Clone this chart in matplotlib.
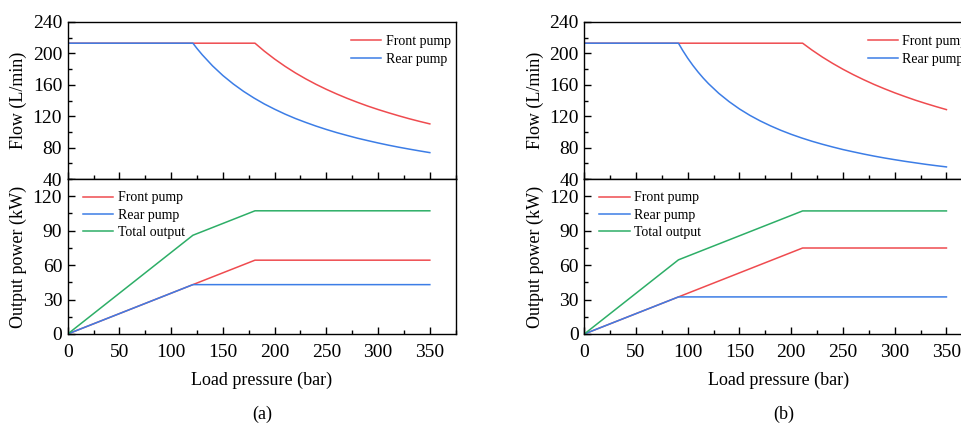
import matplotlib
matplotlib.use("Agg")
import matplotlib.pyplot as plt
from matplotlib.ticker import MultipleLocator

plt.rcParams['font.family'] = ['Liberation Serif', 'DejaVu Serif']

RED = '#EF4B4F'
BLUE = '#3C7DE6'
GREEN = '#2DAE67'

# ---- Panel (a) data ----
a_front_flow_p = [0, 181, 190, 200, 210, 220, 230, 240, 250, 260, 270, 280, 290, 300, 310, 320, 330, 340, 350]
a_front_flow_q = [213, 213, 202.9, 192.8, 183.6, 175.2, 167.6, 160.6, 154.2, 148.3, 142.8, 137.7, 132.9, 128.5, 124.4, 120.5, 116.8, 113.4, 110.2]
a_rear_flow_p = [0, 121, 125, 130, 140, 150, 160, 170, 180, 190, 200, 210, 220, 230, 240, 250, 260, 270, 280, 290, 300, 310, 320, 330, 340, 350]
a_rear_flow_q = [213, 213, 206.2, 198.3, 184.1, 171.8, 161.1, 151.6, 143.2, 135.6, 128.9, 122.7, 117.1, 112.1, 107.4, 103.1, 99.1, 95.5, 92.0, 88.9, 85.9, 83.1, 80.5, 78.1, 75.8, 73.6]
a_front_pow_p = [0, 121, 181, 350]
a_front_pow_w = [0, 43.0, 64.3, 64.3]
a_rear_pow_p = [0, 121, 350]
a_rear_pow_w = [0, 43.0, 43.0]
a_total_pow_p = [0, 121, 181, 350]
a_total_pow_w = [0, 86.0, 107.3, 107.3]

# ---- Panel (b) data ----
b_front_flow_p = [0, 211, 220, 230, 240, 250, 260, 270, 280, 290, 300, 310, 320, 330, 340, 350]
b_front_flow_q = [213, 213, 204.3, 195.4, 187.3, 179.8, 172.9, 166.5, 160.5, 155.0, 149.8, 145.0, 140.4, 136.2, 132.2, 128.4]
b_rear_flow_p = [0, 91, 95, 100, 105, 110, 115, 120, 130, 140, 150, 160, 170, 180, 190, 200, 210, 220, 230, 240, 250, 260, 270, 280, 290, 300, 310, 320, 330, 340, 350]
b_rear_flow_q = [213, 213, 204.0, 193.8, 184.6, 176.2, 168.5, 161.5, 149.1, 138.5, 129.2, 121.1, 114.0, 107.7, 102.0, 96.9, 92.3, 88.1, 84.3, 80.8, 77.5, 74.6, 71.8, 69.2, 66.8, 64.6, 62.5, 60.6, 58.7, 57.0, 55.4]
b_front_pow_p = [0, 91, 211, 350]
b_front_pow_w = [0, 32.3, 74.9, 74.9]
b_rear_pow_p = [0, 91, 350]
b_rear_pow_w = [0, 32.3, 32.3]
b_total_pow_p = [0, 91, 211, 350]
b_total_pow_w = [0, 64.6, 107.2, 107.2]

labels_flow = ['Front pump', 'Rear pump']
labels_pow = ['Front pump', 'Rear pump', 'Total output']
flow_ticks = [40, 80, 120, 160, 200, 240]
pow_ticks = [0, 30, 60, 90, 120]
x_ticks = [0, 50, 100, 150, 200, 250, 300, 350]

W, H = 962, 429
fig = plt.figure(figsize=(W / 100, H / 100), dpi=100)

LW = 1.1
FS = 13
TFS = 14
LFS = 10


def style(ax):
    for s in ax.spines.values():
        s.set_linewidth(1.0)
    ax.tick_params(which='both', direction='in', top=False, right=False, width=1.0, labelsize=TFS)
    ax.tick_params(which='major', length=5)
    ax.tick_params(which='minor', length=3)
    ax.tick_params(axis='y', pad=4)
    ax.tick_params(axis='x', pad=7)
    ax.xaxis.set_minor_locator(MultipleLocator(25))


def make_panel(left_px, panel):
    width_px = 388.0
    top_ax = fig.add_axes([left_px / W, 1 - 179 / H, width_px / W, 157 / H])
    bot_ax = fig.add_axes([left_px / W, 1 - 334 / H, width_px / W, 155 / H])
    for ax in (top_ax, bot_ax):
        style(ax)
        ax.set_xlim(0, 375)
        ax.set_xticks(x_ticks)
    d = panel
    top_ax.plot(d['ffp'], d['ffq'], color=RED, lw=LW, label=labels_flow[0])
    top_ax.plot(d['rfp'], d['rfq'], color=BLUE, lw=LW, label=labels_flow[1])
    top_ax.set_ylim(40, 240)
    top_ax.set_yticks(flow_ticks)
    top_ax.yaxis.set_minor_locator(MultipleLocator(20))
    top_ax.tick_params(axis='x', labelbottom=False)
    top_ax.set_ylabel('Flow (L/min)', fontsize=FS, va='center')
    top_ax.yaxis.set_label_coords(-0.126, 0.5)
    top_ax.legend(loc='upper left', bbox_to_anchor=(0.73, 0.915), frameon=False,
                  borderpad=0, borderaxespad=0, handlelength=2.2, handletextpad=0.3,
                  labelspacing=0.32, fontsize=LFS)

    bot_ax.plot(d['fpp'], d['fpw'], color=RED, lw=LW, label=labels_pow[0])
    bot_ax.plot(d['rpp'], d['rpw'], color=BLUE, lw=LW, label=labels_pow[1])
    bot_ax.plot(d['tpp'], d['tpw'], color=GREEN, lw=LW, label=labels_pow[2])
    bot_ax.set_ylim(0, 135)
    bot_ax.set_yticks(pow_ticks)
    bot_ax.yaxis.set_minor_locator(MultipleLocator(15))
    bot_ax.set_ylabel('Output power (kW)', fontsize=FS, va='center')
    bot_ax.yaxis.set_label_coords(-0.126, 0.5)
    bot_ax.set_xlabel('Load pressure (bar)', fontsize=FS, va='center')
    bot_ax.xaxis.set_label_coords(0.5, -0.297)
    bot_ax.legend(loc='upper left', bbox_to_anchor=(0.039, 0.92), frameon=False,
                  borderpad=0, borderaxespad=0, handlelength=2.2, handletextpad=0.3,
                  labelspacing=0.32, fontsize=LFS)
    return top_ax, bot_ax


panel_a = dict(ffp=a_front_flow_p, ffq=a_front_flow_q, rfp=a_rear_flow_p, rfq=a_rear_flow_q,
               fpp=a_front_pow_p, fpw=a_front_pow_w, rpp=a_rear_pow_p, rpw=a_rear_pow_w,
               tpp=a_total_pow_p, tpw=a_total_pow_w)
panel_b = dict(ffp=b_front_flow_p, ffq=b_front_flow_q, rfp=b_rear_flow_p, rfq=b_rear_flow_q,
               fpp=b_front_pow_p, fpw=b_front_pow_w, rpp=b_rear_pow_p, rpw=b_rear_pow_w,
               tpp=b_total_pow_p, tpw=b_total_pow_w)

make_panel(67.7, panel_a)
make_panel(584.3, panel_b)

fig.text(262 / W, 1 - 414 / H, '(a)', ha='center', va='center', fontsize=FS)
fig.text(784 / W, 1 - 414 / H, '(b)', ha='center', va='center', fontsize=FS)

fig.savefig('out.png', dpi=100)
